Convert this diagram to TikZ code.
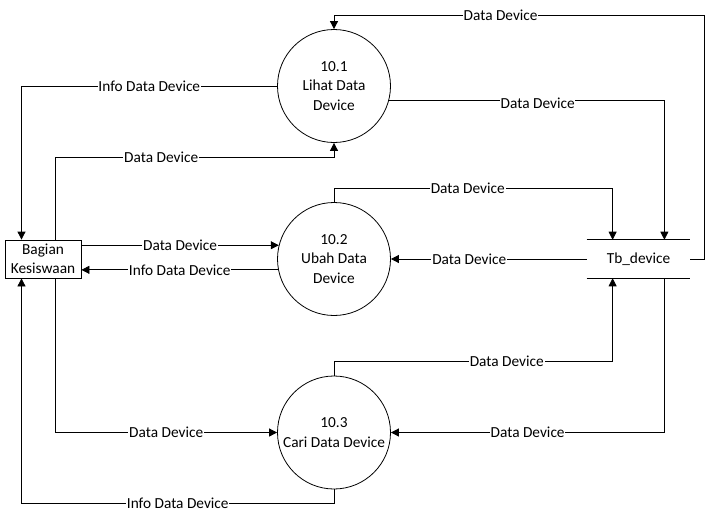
\documentclass[tikz,border=0pt]{standalone}
\usepackage{fontspec}
\setmainfont{Carlito}
\usetikzlibrary{arrows.meta,calc}
\begin{document}
\begin{tikzpicture}[x=0.75pt,y=-0.75pt,
  every node/.style={font=\fontsize{11.5}{14.5}\selectfont},
  proc/.style={draw,circle,minimum size=84.75pt,inner sep=0pt,align=center,line width=0.6pt},
  ent/.style={draw,rectangle,minimum width=57pt,minimum height=28.5pt,inner sep=0pt,align=center,line width=0.6pt},
  lbl/.style={fill=white,inner sep=0.6pt},
  arr/.style={line width=0.6pt,-{Triangle[length=6pt,width=6pt]}},
  ln/.style={line width=0.6pt}]
\useasboundingbox (0,0) rectangle (706,521);
\node[proc] (p1) at (334,86) {10.1\\Lihat Data\\Device};
\node[proc] (p2) at (334,259) {10.2\\Ubah Data\\Device};
\node[proc] (p3) at (334,432.5) {10.3\\Cari Data Device};
\node[ent] (bag) at (43,259) {Bagian\\Kesiswaan};
\node[minimum width=77.25pt,minimum height=28.5pt,inner sep=0pt] (store) at (638.5,259) {Tb\_device};
\draw[ln] (store.north west) -- (store.north east);
\draw[ln] (store.south west) -- (store.south east);
\coordinate (sNW) at ($(store.north west)!0.25!(store.north east)$);
\coordinate (sNE) at ($(store.north west)!0.75!(store.north east)$);
\coordinate (sSW) at ($(store.south west)!0.25!(store.south east)$);
\coordinate (sSE) at ($(store.south west)!0.75!(store.south east)$);
\coordinate (bN1) at ($(bag.north west)!0.22!(bag.north east)$);
\coordinate (bN2) at ($(bag.north west)!0.66!(bag.north east)$);
\coordinate (bS1) at ($(bag.south west)!0.22!(bag.south east)$);
\coordinate (bS2) at ($(bag.south west)!0.66!(bag.south east)$);
% 1
\draw[arr] (store.east) -- ++(14,0) |- node[lbl,pos=0.775]{Data Device} ($(p1.north)+(0,-14)$) -- (p1.north);
% 2
\draw[arr] (p1.-15) -| node[lbl,pos=0.27,yshift=-2pt]{Data Device} (sNE);
% 3
\draw[arr] (p1.west) -| node[lbl,pos=0.25]{Info Data Device} (bN1);
% 4
\draw[arr] (bN2) |- node[lbl,pos=0.69]{Data Device} ($(p1.south)+(0,14)$) -- (p1.south);
% 5
\draw[arr] (p2.north) -- ++(0,-14) -| node[lbl,pos=0.24]{Data Device} (sNW);
% 6
\draw[arr] (store.west) -- node[lbl,pos=0.6]{Data Device} (p2.east);
% 7
\draw[arr] (bag.east |- p2.166) -- node[lbl,pos=0.5]{Data Device} (p2.166);
% 8
\draw[arr] (p2.191) -- node[lbl,pos=0.5]{Info Data Device} (bag.east |- p2.191);
% 9
\draw[arr] (p3.north) -- ++(0,-14) -| node[lbl,pos=0.31]{Data Device} (sSW);
% 10
\draw[arr] (sSE) |- node[lbl,pos=0.75]{Data Device} (p3.east);
% 11
\draw[arr] (bS2) |- node[lbl,pos=0.75]{Data Device} (p3.west);
% 12
\draw[arr] (p3.south) -- ++(0,14) -| node[lbl,pos=0.25]{Info Data Device} (bS1);
\end{tikzpicture}
\end{document}
